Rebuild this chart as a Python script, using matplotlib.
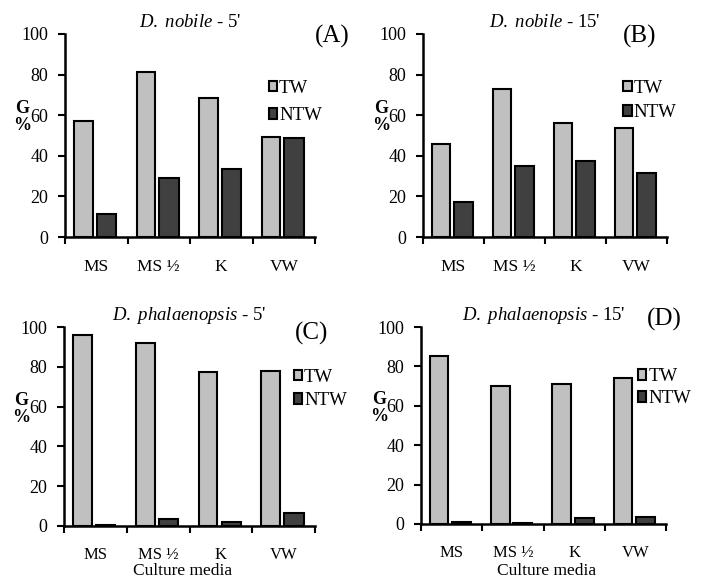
import numpy as np
import matplotlib
matplotlib.use("Agg")
import matplotlib.pyplot as plt
from matplotlib.patches import Patch

plt.rcParams['font.family'] = 'Liberation Serif'
plt.rcParams['mathtext.fontset'] = 'custom'
plt.rcParams['mathtext.rm'] = 'Liberation Serif'
plt.rcParams['mathtext.it'] = 'Liberation Serif:italic'

media = ["MS", "MS \u00bd", "K", "VW"]

# germination %
nobile_5_tw = [57, 81.5, 68.3, 49.4]
nobile_5_ntw = [11.3, 29, 33.5, 48.8]
nobile_15_tw = [45.8, 72.7, 56.3, 53.9]
nobile_15_ntw = [17.2, 35.1, 37.4, 31.5]
phal_5_tw = [96.1, 92.2, 77.6, 78.0]
phal_5_ntw = [0.6, 3.5, 1.8, 6.5]
phal_15_tw = [85.4, 69.8, 71.2, 73.9]
phal_15_ntw = [1.2, 0.5, 2.8, 3.4]

TW_COLOR = "#c0c0c0"
NTW_COLOR = "#404040"
W, H = 701, 581


def px_axes(fig, left, right, top, bottom):
    return fig.add_axes([left / W, 1 - bottom / H, (right - left) / W, (bottom - top) / H])


def panel(ax, tw, ntw, title, tag, tag_xy, leg_xy, spacing, xlabel_xy=None):
    x = np.arange(len(media))
    ax.bar(x + 0.295, tw, width=0.30, color=TW_COLOR, edgecolor="black", linewidth=1.5, label="TW")
    ax.bar(x + 0.665, ntw, width=0.31, color=NTW_COLOR, edgecolor="black", linewidth=1.5, label="NTW")
    ax.set_xlim(0, 4)
    ax.set_ylim(0, 100)
    ax.set_yticks([0, 20, 40, 60, 80, 100])
    ax.set_xticks([0, 1, 2, 3, 4])
    ax.set_xticklabels([])
    ax.set_xticks(x + 0.5, minor=True)
    ax.set_xticklabels(media, minor=True)
    ax.tick_params(axis="x", which="major", direction="out", length=5, width=1.5)
    if xlabel_xy is None:
        ax.tick_params(axis="x", which="minor", length=0, pad=16, labelsize=12.5)
    else:
        ax.tick_params(axis="x", which="minor", length=0, pad=15, labelsize=12)
    ax.tick_params(axis="y", direction="out", length=5, width=1.5, labelsize=13, pad=7)
    for s in ["top", "right"]:
        ax.spines[s].set_visible(False)
    for s in ["left", "bottom"]:
        ax.spines[s].set_linewidth(1.8)
    ax.set_title(title, fontsize=13.5, pad=5)
    ax.text(tag_xy[0], tag_xy[1], tag, transform=ax.transAxes, fontsize=18,
            ha="left", va="center")
    ax.text(-0.172, 0.59, "G\n%", transform=ax.transAxes, fontsize=13,
            fontweight="bold", ha="center", va="center", linespacing=1.0)
    handles = [Patch(facecolor=TW_COLOR, edgecolor="black", linewidth=1.5),
               Patch(facecolor=NTW_COLOR, edgecolor="black", linewidth=1.5)]
    ax.legend(handles, ["TW", "NTW"], loc="upper left", bbox_to_anchor=leg_xy,
              frameon=False, fontsize=13.5, handlelength=0.45, handleheight=0.5,
              handletextpad=0.1, labelspacing=spacing, borderpad=0, borderaxespad=0)
    if xlabel_xy is not None:
        ax.set_xlabel("Culture media", fontsize=12.5)
        ax.xaxis.set_label_coords(*xlabel_xy)
        ax.xaxis.label.set_va("center")


def main():
    fig = plt.figure(figsize=(W / 100, H / 100), dpi=100)

    ax_a = px_axes(fig, 65, 315, 34, 237)
    panel(ax_a, nobile_5_tw, nobile_5_ntw, r"$\mathit{D.\ nobile}$ - 5'", "(A)",
          (1.0, 0.99), (0.815, 0.775), 0.55)

    ax_b = px_axes(fig, 423, 667, 34, 237)
    panel(ax_b, nobile_15_tw, nobile_15_ntw, r"$\mathit{D.\ nobile}$ - 15'", "(B)",
          (0.82, 0.99), (0.82, 0.775), 0.4)

    ax_c = px_axes(fig, 64, 315, 327, 526)
    panel(ax_c, phal_5_tw, phal_5_ntw, r"$\mathit{D.\ phalaenopsis}$ - 5'", "(C)",
          (0.92, 0.97), (0.915, 0.79), 0.35, xlabel_xy=(0.474, -0.226))

    ax_d = px_axes(fig, 421, 666, 327, 524)
    panel(ax_d, phal_15_tw, phal_15_ntw, r"$\mathit{D.\ phalaenopsis}$ - 15'", "(D)",
          (0.92, 1.04), (0.885, 0.79), 0.25, xlabel_xy=(0.514, -0.239))

    fig.savefig("out.png", dpi=100)


if __name__ == "__main__":
    main()
